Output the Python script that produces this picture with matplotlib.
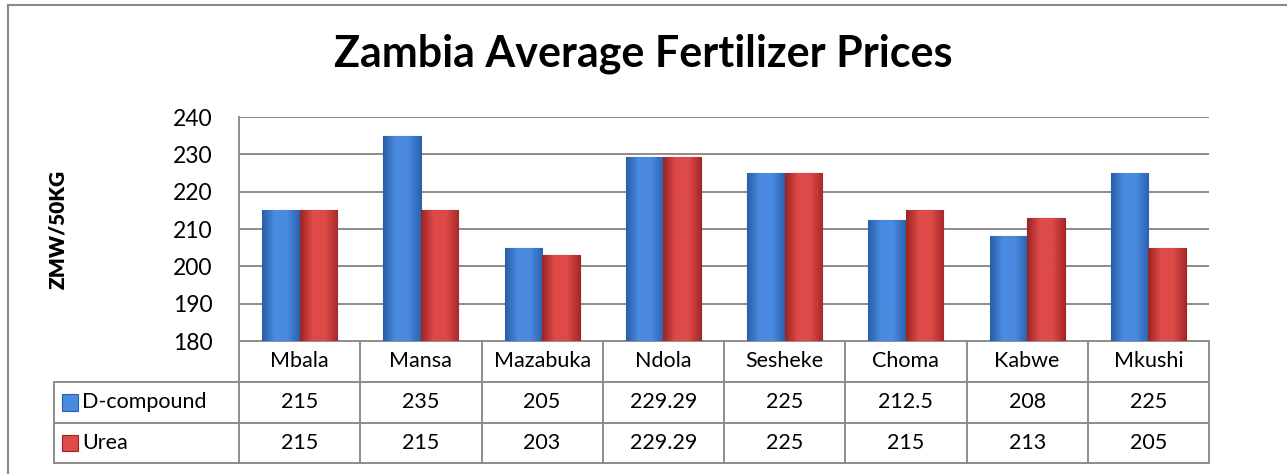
#!/usr/bin/env python3
"""Zambia average fertilizer prices: clustered bars with a data table underneath."""
import numpy as np
import matplotlib
matplotlib.use("Agg")
import matplotlib.pyplot as plt
from matplotlib.colors import LinearSegmentedColormap
from matplotlib.lines import Line2D
from matplotlib.patches import Rectangle

plt.rcParams["font.family"] = ["Lato", "DejaVu Sans"]

TITLE = "Zambia Average Fertilizer Prices"
Y_LABEL = "ZMW/50KG"
TOWNS = ["Mbala", "Mansa", "Mazabuka", "Ndola", "Sesheke", "Choma", "Kabwe", "Mkushi"]
SERIES = ["D-compound", "Urea"]
D_COMPOUND = [215, 235, 205, 229.29, 225, 212.5, 208, 225]
UREA = [215, 215, 203, 229.29, 225, 215, 213, 205]
LABELS_D = ["215", "235", "205", "229.29", "225", "212.5", "208", "225"]
LABELS_U = ["215", "215", "203", "229.29", "225", "215", "213", "205"]
Y_TICKS = [180, 190, 200, 210, 220, 230, 240]

BLUE = ("#2a5ea8", "#4a8ae0", "#2c62b0")
RED = ("#9c2424", "#de4a48", "#a82a2a")
GRID = "#8c8c8c"
TABLE_FS = 15.5

W, H = 1287, 474
fig = plt.figure(figsize=(W / 100, H / 100), dpi=100)
ax = fig.add_axes([239 / W, 1 - 341 / H, (1209 - 239) / W, (341 - 117) / H])

x = np.arange(len(TOWNS))
bw = 0.31
for vals, off, shades in [(D_COMPOUND, -bw / 2, BLUE), (UREA, bw / 2, RED)]:
    bars = ax.bar(x + off, [v - 180 for v in vals], bw, bottom=180,
                  color=shades[1], edgecolor=shades[0], linewidth=0.8, zorder=3)
    cmap = LinearSegmentedColormap.from_list("b", [shades[0], shades[1], shades[1], shades[2]])
    grad = np.linspace(0, 1, 64).reshape(1, -1)
    for b in bars:
        x0, y0 = b.get_x(), b.get_y()
        im = ax.imshow(grad, cmap=cmap, aspect="auto", zorder=3.5,
                       extent=(x0, x0 + b.get_width(), y0, y0 + b.get_height()))
        im.set_clip_path(b)

ax.set_xlim(-0.5, len(TOWNS) - 0.5)
ax.set_ylim(180, 240)
ax.set_yticks(Y_TICKS)
ax.set_xticks([])
for t in Y_TICKS[1:]:
    ax.axhline(t, color=GRID, lw=1.4, zorder=1)
for s in ["top", "right", "bottom"]:
    ax.spines[s].set_visible(False)
ax.spines["left"].set_color(GRID)
ax.spines["left"].set_linewidth(1.4)
ax.tick_params(axis="y", length=0, labelsize=16.5, pad=19)
ax.set_ylabel(Y_LABEL, fontsize=15, fontweight="heavy")
ax.yaxis.set_label_coords(-0.177, 0.5)

# data table under the plot, in axes-fraction y
tr = ax.get_xaxis_transform()
rows = [0, -0.183, -0.366, -0.545]
left = -0.5 - 185 / 970 * len(TOWNS)
kw = dict(transform=tr, clip_on=False, color=GRID, lw=1.4)
ax.add_line(Line2D([-0.5, len(TOWNS) - 0.5], [rows[0]] * 2, **kw))
for r in rows[1:]:
    ax.add_line(Line2D([left, len(TOWNS) - 0.5], [r] * 2, **kw))
for b in np.arange(len(TOWNS) + 1) - 0.5:
    ax.add_line(Line2D([b, b], [rows[0], rows[-1]], **kw))
ax.add_line(Line2D([left, left], [rows[1], rows[-1]], **kw))

for i, town in enumerate(TOWNS):
    ax.text(i, (rows[0] + rows[1]) / 2, town, transform=tr, ha="center",
            va="center", fontsize=TABLE_FS)
    ax.text(i, (rows[1] + rows[2]) / 2, LABELS_D[i], transform=tr,
            ha="center", va="center", fontsize=TABLE_FS)
    ax.text(i, (rows[2] + rows[3]) / 2, LABELS_U[i], transform=tr,
            ha="center", va="center", fontsize=TABLE_FS)

for j, (name, shades) in enumerate([(SERIES[0], BLUE), (SERIES[1], RED)]):
    yc = (rows[j + 1] + rows[j + 2]) / 2
    ax.add_patch(Rectangle((left + 0.065, yc - 0.036), 0.13, 0.072, transform=tr,
                           clip_on=False, facecolor=shades[1],
                           edgecolor=shades[0], lw=0.8))
    ax.text(left + 0.23, yc, name, transform=tr, ha="left", va="center",
            fontsize=TABLE_FS)

fig.text(0.5, 1 - 54 / H, TITLE, ha="center", va="center", fontsize=31,
         fontweight="bold")

# outer chart frame (top and left visible)
fig.add_artist(Line2D([8 / W, 1], [1 - 5 / H] * 2, color="#8a8a8a", lw=1.5))
fig.add_artist(Line2D([8 / W] * 2, [0, 1 - 5 / H], color="#8a8a8a", lw=1.5))

fig.savefig("out.png", dpi=100)
